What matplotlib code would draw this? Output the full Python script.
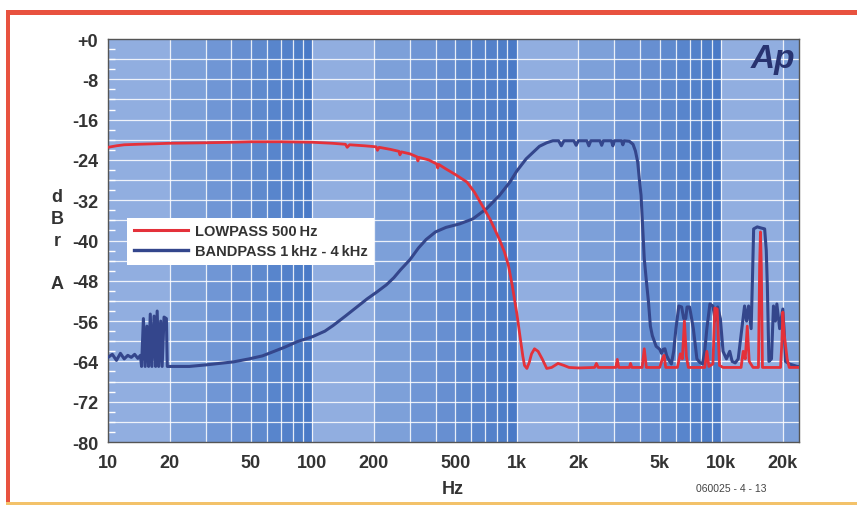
import numpy as np
import matplotlib.pyplot as plt
from matplotlib.patches import Rectangle
from matplotlib.lines import Line2D
from matplotlib.ticker import FixedLocator, MultipleLocator, NullFormatter

plt.rcParams.update({'font.family': ['Liberation Sans', 'DejaVu Sans'],
                     'font.weight': 'bold'})

# lowpass 500 Hz response (Hz, dBrA)
lp_f = [10, 11, 12, 14, 17, 20, 30, 40, 50, 70, 100, 125, 145, 148, 152, 180,
        205, 208, 212, 240, 265, 268, 272, 300, 325, 328, 332, 370, 405, 410,
        415, 450, 500, 570, 620, 680, 740, 820, 870, 910, 950, 1000, 1040,
        1070, 1090, 1120, 1150, 1180, 1220, 1270, 1330, 1400, 1480, 1590, 1700,
        1800, 2000, 2400, 2450, 2500, 3050, 3100, 3150, 3550, 3600, 3650, 4100,
        4200, 4300, 5000, 5150, 5250, 5350, 6100, 6300, 6450, 6600, 6750, 6900,
        8300, 8500, 8700, 9100, 9300, 9550, 9800, 10200, 12500, 12800, 13100,
        13400, 13700, 14300, 15200, 15400, 15550, 15700, 15900, 19500, 19800,
        20000, 20300, 21000, 21500, 24000]
lp_db = [-21.5, -21.2, -21.0, -20.9, -20.8, -20.7, -20.6, -20.5, -20.4, -20.4,
         -20.5, -20.7, -20.9, -21.5, -21.0, -21.2, -21.4, -22.1, -21.5, -21.9,
         -22.3, -23.0, -22.4, -22.8, -23.4, -24.2, -23.5, -24.0, -24.8, -25.6,
         -24.9, -25.8, -26.9, -28.4, -30.4, -33.2, -35.8, -39.7, -42.3, -45.0,
         -49.0, -54.5, -59.5, -63.0, -64.8, -65.4, -64.2, -62.5, -61.5,
         -62.0, -63.5, -65.4, -65.2, -64.4, -64.8, -65.2, -65.3, -65.2, -64.4,
         -65.2, -65.2, -63.6, -65.2, -65.2, -64.4, -65.2, -65.2, -61.5, -65.2,
         -65.2, -63.5, -62.8, -65.2, -65.2, -62.5, -63.5, -56.0, -63.0, -65.2,
         -65.2, -62.0, -65.0, -64.5, -53.4, -53.6, -64.8, -65.2, -65.2, -62.0,
         -63.5, -57.0, -64.0, -65.2, -65.2, -45.0, -38.3, -45.0, -65.2, -65.2,
         -60.0, -54.2, -58.5, -63.5, -65.2, -65.2]

# bandpass 1 kHz - 4 kHz response (Hz, dBrA)
bp_f = [10, 10.5, 11, 11.5, 12, 12.5, 13, 13.5, 14, 14.4, 14.6, 14.9, 15.2,
        15.5, 15.8, 16.1, 16.4, 16.8, 17.1, 17.4, 17.7, 18.1, 18.4, 18.8, 19.3,
        19.5, 22, 25, 30, 35, 41, 49, 57, 64, 73, 84, 100, 115, 126, 145, 165,
        185, 207, 230, 250, 270, 300, 330, 360, 400, 450, 525, 610, 710, 820,
        925, 1000, 1110, 1200, 1290, 1400, 1500, 1600, 1650, 1700, 1900, 1950,
        2000, 2200, 2250, 2300, 2550, 2600, 2650, 2900, 2950, 3000, 3250, 3300,
        3350, 3550, 3700, 3800, 3900, 4000, 4050, 4120, 4200, 4300, 4400, 4500,
        4600, 4800, 5000, 5100, 5200, 5300, 5400, 5500, 5700, 5850, 6000, 6200,
        6400, 6550, 6700, 6800, 7000, 7300, 7600, 7850, 8100, 8300, 8500, 8800,
        9100, 9350, 9600, 9900, 10200, 10600, 11000, 11300, 11700, 12100, 12600,
        13000, 13300, 13600, 14000, 14200, 14400, 15000, 15600, 16300, 16600,
        16800, 17100, 17600, 18000, 18400, 18700, 19300, 20000, 20300, 20600,
        21500, 23500, 24000]
bp_db = [-63.2, -62.6, -63.8, -62.4, -63.5, -62.8, -63.2, -62.6, -63.4, -62.8,
         -65.0, -55.5, -65.0, -57.0, -65.0, -54.6, -65.0, -55.0, -65.0, -54.0,
         -65.0, -56.0, -65.0, -55.2, -55.5, -65.0, -65.0, -65.0, -64.7, -64.4,
         -64.1, -63.5, -62.9, -62.1, -61.2, -60.1, -59.1, -58.0, -56.9, -55.0,
         -53.2, -51.6, -50.2, -48.8, -47.4, -45.8, -43.8, -41.5, -39.8, -38.3,
         -37.4, -36.7, -35.7, -33.7, -31.1, -28.4, -26.2, -23.8, -22.5, -21.3,
         -20.6, -20.2, -20.2, -21.2, -20.2, -20.2, -21.1, -20.2, -20.2, -21.2,
         -20.2, -20.2, -21.1, -20.2, -20.2, -21.2, -20.2, -20.2, -21.0, -20.2,
         -20.3, -20.9, -22.2, -24.4, -29.0, -31.0, -37.0, -43.6, -48.0, -52.0,
         -57.0, -58.9, -61.0, -61.6, -62.4, -61.6, -61.5, -62.8, -63.5, -64.5,
         -62.0, -57.5, -53.0, -53.2, -55.5, -55.5, -53.2, -53.2, -57.5, -63.5,
         -64.2, -64.5, -62.0, -57.5, -52.6, -53.0, -56.0, -53.2, -55.5, -62.0,
         -63.5, -62.0, -64.0, -64.3, -63.5, -57.5, -53.0, -56.0, -53.0, -57.5,
         -48.0, -37.7, -37.3, -37.5, -37.7, -42.0, -49.0, -64.0, -63.5, -53.0,
         -56.0, -52.6, -57.5, -53.6, -58.0, -64.0, -64.5, -65.0, -65.0]

x_ticks = [10, 20, 50, 100, 200, 500, 1000, 2000, 5000, 10000, 20000]
x_labels = ['10', '20', '50', '100', '200', '500', '1k', '2k', '5k', '10k', '20k']
y_ticks = list(range(0, -81, -8))
y_labels = ['+0'] + [str(v) for v in y_ticks[1:]]

red = '#e4313a'
navy = '#34468c'

fig = plt.figure(figsize=(8.57, 5.06), dpi=100)
fig.patch.set_facecolor('white')
ax = fig.add_axes([108 / 857, 1 - 443 / 506, 691 / 857, 403 / 506])

# decade shading, light to dark across each decade
light = np.array([160, 185, 230]) / 255
dark = np.array([72, 121, 198]) / 255
for dec in [10, 100, 1000, 10000]:
    for k in range(1, 10):
        t = np.log10(k + 0.5)
        ax.axvspan(k * dec, (k + 1) * dec, color=light * (1 - t) + dark * t,
                   lw=0, zorder=0)

ax.set_xscale('log')
ax.set_xlim(10, 24000)
ax.set_ylim(-80, 0)

minor_x = [k * d for d in [10, 100, 1000, 10000] for k in range(2, 10) if k * d < 24000]
ax.xaxis.set_major_locator(FixedLocator(x_ticks))
ax.set_xticklabels(x_labels)
ax.xaxis.set_minor_locator(FixedLocator(minor_x))
ax.xaxis.set_minor_formatter(NullFormatter())
ax.set_yticks(y_ticks)
ax.set_yticklabels(y_labels)
ax.yaxis.set_minor_locator(MultipleLocator(2))

for v in minor_x + [100, 1000, 10000]:
    ax.axvline(v, color='white', lw=0.9, alpha=0.85, zorder=1)
for v in range(-76, 0, 4):
    ax.axhline(v, color='white', lw=0.9, alpha=0.85, zorder=1)

ax.tick_params(axis='both', which='major', length=0, labelsize=13, pad=7)
ax.tick_params(axis='x', which='major', pad=9)
ax.tick_params(axis='y', which='minor', direction='in', length=5, color='white', width=1)
ax.tick_params(axis='x', which='minor', length=0)
for s in ax.spines.values():
    s.set_color('#555555')
    s.set_linewidth(1)

ax.plot(bp_f, bp_db, color=navy, lw=2.2, zorder=3, solid_joinstyle='round')
ax.plot(lp_f, lp_db, color=red, lw=2.0, zorder=4, solid_joinstyle='round')

handles = [Line2D([], [], color=red, lw=2.2), Line2D([], [], color=navy, lw=2.4)]
leg = ax.legend(handles, ['LOWPASS 500\u2009Hz', 'BANDPASS 1\u2009kHz - 4\u2009kHz'],
                loc='upper left', bbox_to_anchor=(0.0275, 0.556), borderaxespad=0,
                fancybox=False, framealpha=1, edgecolor='none', handlelength=3.7,
                prop={'size': 10.5, 'weight': 'bold'}, labelspacing=0.4,
                borderpad=0.45, handletextpad=0.5)
leg.set_zorder(5)
for t in leg.get_texts():
    t.set_color('#333333')

ax.text(0.995, 0.99, 'Ap', transform=ax.transAxes, ha='right', va='top',
        fontsize=24, fontweight='bold', fontstyle='italic', color='#283370', zorder=6)

# dBrA label, letters stacked
for ch, yp in [('d', 198), ('B', 220), ('r', 241), ('A', 285)]:
    fig.text(57 / 857, 1 - yp / 506, ch, ha='center', va='center', fontsize=13,
             fontweight='bold', color='#333333')

fig.text(453 / 857, 1 - 490 / 506, 'Hz', ha='center', va='center', fontsize=13,
         fontweight='bold', color='#333333')
fig.text(731 / 857, 1 - 489 / 506, '060025 - 4 - 13', ha='center', va='center',
         fontsize=7.5, fontweight='normal', color='#444444')

for lab in ax.get_xticklabels() + ax.get_yticklabels():
    lab.set_color('#333333')

# page frame
fig.add_artist(Rectangle((6 / 857, 0), 4 / 857, 1 - 12 / 506, transform=fig.transFigure,
                         color='#e8523f', lw=0))
fig.add_artist(Rectangle((6 / 857, 1 - 16 / 506), 1, 5 / 506, transform=fig.transFigure,
                         color='#e8523f', lw=0))
fig.add_artist(Rectangle((6 / 857, 0), 1, 3 / 506, transform=fig.transFigure,
                         color='#f3c26a', lw=0))

plt.savefig('out.png', dpi=100)
